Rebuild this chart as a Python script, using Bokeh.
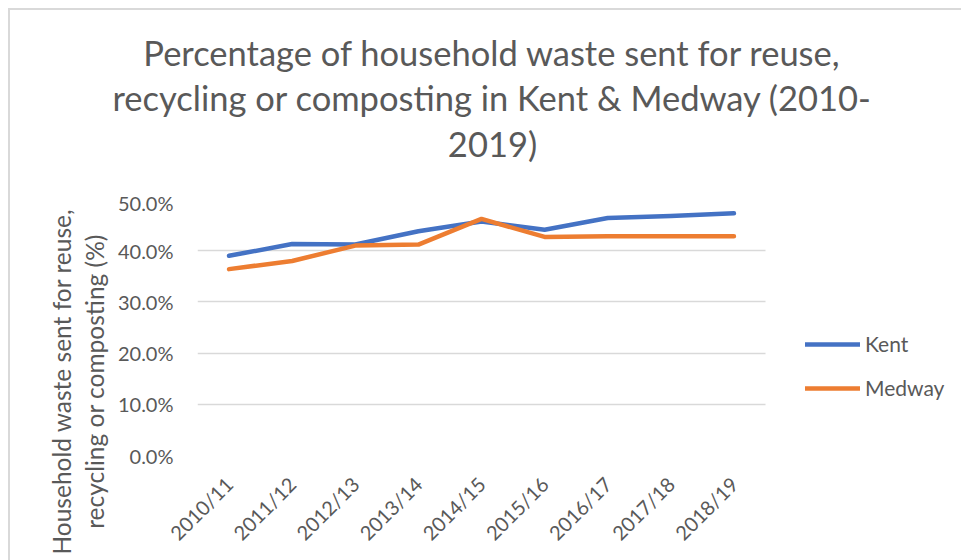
import math
from bokeh.plotting import figure
from bokeh.layouts import column, row
from bokeh.models import (Range1d, FixedTicker, NumeralTickFormatter,
                          Label, Legend, LegendItem)
from bokeh.embed import file_html
from bokeh.resources import INLINE

categories = ["2010/11", "2011/12", "2012/13", "2013/14", "2014/15",
              "2015/16", "2016/17", "2017/18", "2018/19"]
kent = [0.390, 0.413, 0.412, 0.438, 0.457, 0.441, 0.464, 0.468, 0.473]
medway = [0.364, 0.380, 0.410, 0.412, 0.462, 0.427, 0.428, 0.428, 0.428]
y_ticks = [0.0, 0.1, 0.2, 0.3, 0.4, 0.5]
title_lines = ["Percentage of household waste sent for reuse,",
               "recycling or composting in Kent & Medway (2010-",
               "2019)"]
y_title_lines = ["Household waste sent for reuse,", "recycling or composting (%)"]

FONT = "Lato"
GREY = "#595959"
KENT_C = "#4472C4"
MEDWAY_C = "#ED7D31"

W, H = 951, 550          # whole chart (inside the frame border)
TOP_H = 180              # title strip height
LEFT_W = 100             # y-title strip width
MW, MH = W - LEFT_W, H - TOP_H   # main figure
FL, FT = 87, 9           # plotting-area offsets inside the main figure
PLOT_W, PLOT_H = 568, 256


def blank_fig(w, h):
    f = figure(width=w, height=h, x_range=Range1d(0, w), y_range=Range1d(0, h),
               output_backend="svg", toolbar_location=None, title_location=None,
               x_axis_location=None, y_axis_location=None,
               min_border=0, min_border_left=0, min_border_right=0,
               min_border_top=0, min_border_bottom=0)
    f.frame_align = False
    f.outline_line_color = None
    f.grid.grid_line_color = None
    f.background_fill_color = "white"
    f.border_fill_color = "white"
    return f


# ---- title strip
tf = blank_fig(W, TOP_H)
for txt, by in zip(title_lines, [42, 87, 133]):
    tf.add_layout(Label(x=482, y=TOP_H - by, text=txt, text_align="center",
                        text_baseline="alphabetic", text_font=FONT,
                        text_font_size="34.5px", text_color=GREY))

# ---- y-title strip
lf = blank_fig(LEFT_W, MH)
for txt, cx in zip(y_title_lines, [51, 84]):
    lf.add_layout(Label(x=cx, y=MH - 191, text=txt, text_align="center",
                        text_baseline="middle", angle=math.pi / 2, text_font=FONT,
                        text_font_size="24.5px", text_color=GREY))

# ---- main chart
n = len(categories)
xs = [i + 0.5 for i in range(n)]
px_x = PLOT_W / n
x_end = (MW - FL) / px_x

p = figure(x_range=Range1d(0, x_end), y_range=Range1d(0, y_ticks[-1]),
           width=MW, height=MH, output_backend="svg", toolbar_location=None,
           title_location=None,
           min_border_left=FL, min_border_top=FT,
           min_border_right=0, min_border_bottom=MH - FT - PLOT_H)
p.frame_align = False
p.outline_line_color = None
p.background_fill_color = "white"
p.border_fill_color = "white"

p.xgrid.grid_line_color = None
g = p.ygrid[0]
g.ticker = FixedTicker(ticks=y_ticks)
g.grid_line_color = "#d9d9d9"
g.grid_line_width = 1.3
try:
    g.cross_bounds = (0, n)
except Exception:
    g.grid_line_color = None
    p.segment(x0=[0] * len(y_ticks), x1=[n] * len(y_ticks), y0=y_ticks, y1=y_ticks,
              line_color="#d9d9d9", line_width=1.3)

kr = p.line(xs, kent, line_color=KENT_C, line_width=4.5, line_cap="round", line_join="round")
mr = p.line(xs, medway, line_color=MEDWAY_C, line_width=4.5, line_cap="round", line_join="round")

xa = p.xaxis[0]
xa.ticker = FixedTicker(ticks=xs)
xa.major_label_overrides = {x: c for x, c in zip(xs, categories)}
xa.major_label_orientation = math.pi / 4
xa.major_label_standoff = 25

ya = p.yaxis[0]
ya.ticker = FixedTicker(ticks=y_ticks)
ya.formatter = NumeralTickFormatter(format="0.0%")
ya.major_label_standoff = 24

for ax in (xa, ya):
    ax.axis_line_color = None
    ax.major_tick_line_color = None
    ax.minor_tick_line_color = None
    ax.major_tick_out = 0
    ax.major_tick_in = 0
    ax.major_label_text_font = FONT
    ax.major_label_text_color = GREY
    ax.major_label_text_font_size = "20px"

legend = Legend(items=[LegendItem(label="Kent", renderers=[kr]),
                       LegendItem(label="Medway", renderers=[mr])],
                location=(608, 55), orientation="vertical",
                glyph_width=55, glyph_height=20, label_height=20, spacing=19,
                label_standoff=5, padding=0, margin=0,
                border_line_color=None, background_fill_alpha=0,
                label_text_font=FONT, label_text_color=GREY,
                label_text_font_size="21px")
p.add_layout(legend, "center")

layout = column(tf, row(lf, p, spacing=0), spacing=0)
layout.styles = {"margin-left": "8px", "margin-top": "8px",
                 "border-left": "2px solid #d9d9d9", "border-top": "2px solid #d9d9d9"}

open("out.html", "w").write(file_html(layout, INLINE))
